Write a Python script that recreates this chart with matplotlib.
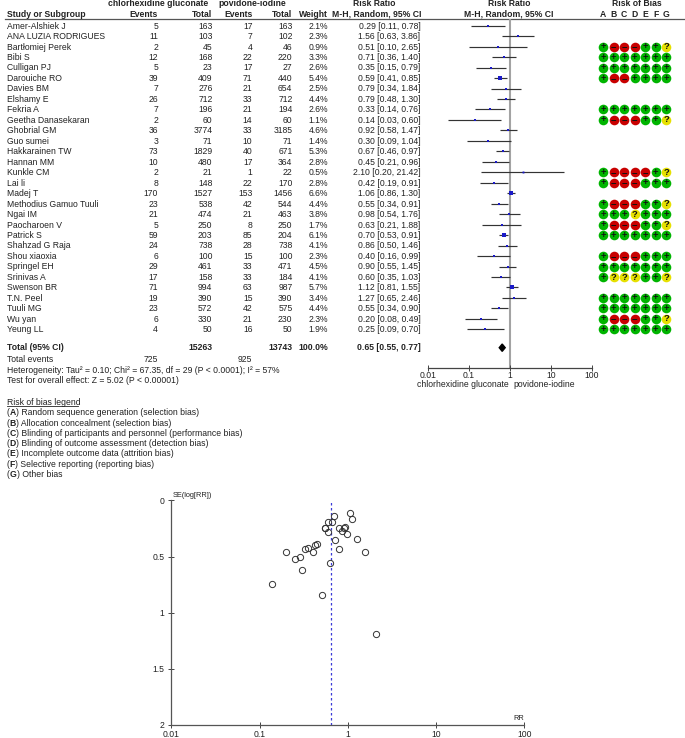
import matplotlib
matplotlib.use('Agg')
import matplotlib.pyplot as plt

plt.rcParams['font.family'] = ['Liberation Sans', 'DejaVu Sans']

studies = ['Amer-Alshiek J', 'ANA LUZIA RODRIGUES', 'Bartłomiej Perek', 'Bibi S', 'Culligan PJ',
           'Darouiche RO', 'Davies BM', 'Elshamy E', 'Fekria A', 'Geetha Danasekaran',
           'Ghobrial GM', 'Guo sumei', 'Hakkarainen TW', 'Hannan MM', 'Kunkle CM', 'Lai li',
           'Madej T', 'Methodius Gamuo Tuuli', 'Ngai IM', 'Paocharoen V', 'Patrick S',
           'Shahzad G Raja', 'Shou xiaoxia', 'Springel EH', 'Srinivas A', 'Swenson BR',
           'T.N. Peel', 'Tuuli MG', 'Wu yan', 'Yeung LL']
events1 = [5, 11, 2, 12, 5, 39, 7, 26, 7, 2, 36, 3, 73, 10, 2, 8, 170, 23, 21, 5, 59, 24, 6, 29, 17, 71, 19, 23, 6, 4]
total1 = [163, 103, 45, 168, 23, 409, 276, 712, 196, 60, 3774, 71, 1829, 480, 21, 148, 1527, 538, 474, 250,
          203, 738, 100, 461, 158, 994, 390, 572, 330, 50]
events2 = [17, 7, 4, 22, 17, 71, 21, 33, 21, 14, 33, 10, 40, 17, 1, 22, 153, 42, 21, 8, 85, 28, 15, 33, 33, 63,
           15, 42, 21, 16]
total2 = [163, 102, 46, 220, 27, 440, 654, 712, 194, 60, 3185, 71, 671, 364, 22, 170, 1456, 544, 463, 250, 204,
          738, 100, 471, 184, 987, 390, 575, 230, 50]
weight = [2.1, 2.3, 0.9, 3.3, 2.6, 5.4, 2.5, 4.4, 2.6, 1.1, 4.6, 1.4, 5.3, 2.8, 0.5, 2.8, 6.6, 4.4, 3.8, 1.7,
          6.1, 4.1, 2.3, 4.5, 4.1, 5.7, 3.4, 4.4, 2.3, 1.9]
rr = [0.29, 1.56, 0.51, 0.71, 0.35, 0.59, 0.79, 0.79, 0.33, 0.14, 0.92, 0.30, 0.67, 0.45, 2.10, 0.42, 1.06, 0.55,
      0.98, 0.63, 0.70, 0.86, 0.40, 0.90, 0.60, 1.12, 1.27, 0.55, 0.20, 0.25]
ci_low = [0.11, 0.63, 0.10, 0.36, 0.15, 0.41, 0.34, 0.48, 0.14, 0.03, 0.58, 0.09, 0.46, 0.21, 0.20, 0.19, 0.86,
          0.34, 0.54, 0.21, 0.53, 0.50, 0.16, 0.55, 0.35, 0.81, 0.65, 0.34, 0.08, 0.09]
ci_high = [0.78, 3.86, 2.65, 1.40, 0.79, 0.85, 1.84, 1.30, 0.76, 0.60, 1.47, 1.04, 0.97, 0.96, 21.42, 0.91, 1.30,
           0.91, 1.76, 1.88, 0.91, 1.46, 0.99, 1.45, 1.03, 1.55, 2.46, 0.90, 0.49, 0.70]
rob = ['', '', '+---++?', '+++++++', '+++++++', '+--++++', '', '', '+++++++', '+---++?', '', '', '', '',
       '+----+?', '+---+++', '', '+---++?', '+++?+++', '+---++?', '+++++++', '', '+---+++', '+++++++',
       '+???++?', '', '+++++++', '+++++++', '+---++?', '+++++++']
se = [0.50, 0.46, 0.84, 0.35, 0.42, 0.19, 0.43, 0.25, 0.43, 0.74, 0.24, 0.62, 0.19, 0.39, 1.19, 0.40, 0.11,
      0.25, 0.30, 0.56, 0.14, 0.27, 0.46, 0.25, 0.28, 0.17, 0.34, 0.25, 0.46, 0.52]
rob_letters = ['A', 'B', 'C', 'D', 'E', 'F', 'G']
legend_lines = [('A', 'Random sequence generation (selection bias)'),
                ('B', 'Allocation concealment (selection bias)'),
                ('C', 'Blinding of participants and personnel (performance bias)'),
                ('D', 'Blinding of outcome assessment (detection bias)'),
                ('E', 'Incomplete outcome data (attrition bias)'),
                ('F', 'Selective reporting (reporting bias)'),
                ('G', 'Other bias')]
pooled, pooled_low, pooled_high = 0.65, 0.55, 0.77
W, H = 685, 738
FS = 6.2
TXT = '#222222'


def px_axes(x0, y0, x1, y1):
    # axes from pixel box, y measured from the top
    return fig.add_axes([x0 / W, 1 - y1 / H, (x1 - x0) / W, (y1 - y0) / H])


def row_y(r):
    return 25.7 + 10.47 * r


fig = plt.figure(figsize=(W / 100, H / 100), dpi=100)

# page layer for the table text
page = fig.add_axes([0, 0, 1, 1])
page.set_xlim(0, W)
page.set_ylim(H, 0)
page.axis('off')


def t(x, y, s, ha='left', bold=False, size=FS):
    return page.text(x, y + 0.4, s, ha=ha, va='center', fontsize=size, color=TXT,
                     fontweight='bold' if bold else 'normal')


# header
t(158.5, 3.5, 'chlorhexidine gluconate', ha='center', bold=True)
t(252.5, 3.5, 'povidone-iodine', ha='center', bold=True)
t(374, 3.5, 'Risk Ratio', ha='center', bold=True)
t(509, 3.5, 'Risk Ratio', ha='center', bold=True)
t(637, 3.5, 'Risk of Bias', ha='center', bold=True)
t(7, 14, 'Study or Subgroup', bold=True)
t(158, 14, 'Events', ha='right', bold=True)
t(212.5, 14, 'Total', ha='right', bold=True)
t(252.5, 14, 'Events', ha='right', bold=True)
t(292.5, 14, 'Total', ha='right', bold=True)
t(328, 14, 'Weight', ha='right', bold=True)
t(376.5, 14, 'M-H, Random, 95% CI', ha='center', bold=True)
t(509, 14, 'M-H, Random, 95% CI', ha='center', bold=True)
for i, letter in enumerate(rob_letters):
    t(603.3 + 10.45 * i, 14, letter, ha='center', bold=True)
page.plot([5, 685], [19, 19], color='#555555', lw=0.9)

# table rows
for i, name in enumerate(studies):
    y = row_y(i)
    t(7, y, name)
    t(158, y, str(events1[i]), ha='right')
    t(212.5, y, str(total1[i]), ha='right')
    t(252.5, y, str(events2[i]), ha='right')
    t(292.5, y, str(total2[i]), ha='right')
    t(328, y, '%.1f%%' % weight[i], ha='right')
    t(420.5, y, '%.2f [%.2f, %.2f]' % (rr[i], ci_low[i], ci_high[i]), ha='right')

# total row
t(7, 347.5, 'Total (95% CI)', bold=True)
t(212.5, 347.5, '15263', ha='right', bold=True)
t(292.5, 347.5, '13743', ha='right', bold=True)
t(328, 347.5, '100.0%', ha='right', bold=True)
t(420.5, 347.5, '%.2f [%.2f, %.2f]' % (pooled, pooled_low, pooled_high), ha='right', bold=True)
t(7, 359.3, 'Total events')
t(158, 359.3, '725', ha='right')
t(252.5, 359.3, '925', ha='right')
t(7, 370, 'Heterogeneity: Tau² = 0.10; Chi² = 67.35, df = 29 (P < 0.0001); I² = 57%')
t(7, 380.3, 'Test for overall effect: Z = 5.02 (P < 0.00001)')

# risk of bias legend, bold letter placed after measuring the piece before it
t(7, 401.7, 'Risk of bias legend')
page.plot([7, 78.5], [405.8, 405.8], color=TXT, lw=0.6)
renderer = fig.canvas.get_renderer()
for i, (letter, desc) in enumerate(legend_lines):
    y = 412.3 + 10.3 * i
    x = 7
    for piece, is_bold in [('(', False), (letter, True), (') ' + desc, False)]:
        txt = t(x, y, piece, bold=is_bold)
        x = page.transData.inverted().transform(txt.get_window_extent(renderer))[1][0]

# forest plot
rows = list(range(len(studies)))
ax = px_axes(428, 19, 591.7, 368)
ax.set_xscale('log')
ax.set_xlim(0.01, 100)
ax.set_ylim(32.69, -0.64)
ax.patch.set_alpha(0)
ax.axvline(1, color='#a3a3a3', lw=1.5, zorder=1)
ax.hlines(rows, ci_low, ci_high, color='#333333', lw=0.85, zorder=2)
for i in rows:
    ax.plot(rr[i], i, 's', color='#1a1ac8', ms=1.3 + weight[i] * 0.16, mew=0, zorder=3)
ax.fill([pooled_low, pooled, pooled_high, pooled], [30.75, 30.4, 30.75, 31.1], color='black', zorder=4)
for s in ['top', 'left', 'right']:
    ax.spines[s].set_visible(False)
ax.spines['bottom'].set_color('#444444')
ax.spines['bottom'].set_linewidth(0.9)
ax.set_yticks([])
ax.set_xticks([0.01, 0.1, 1, 10, 100])
ax.set_xticklabels(['0.01', '0.1', '1', '10', '100'], fontsize=FS, color=TXT)
ax.minorticks_off()
ax.tick_params(axis='x', direction='inout', length=4, width=0.7, color='#444444', pad=0.5)
t(509, 384.5, 'chlorhexidine gluconate', ha='right')
t(513, 384.5, 'povidone-iodine')

# risk of bias circles
colours = {'+': '#00b400', '-': '#c80000', '?': '#e6e000'}
glyphs = {'+': '+', '-': '−', '?': '?'}
ax_rob = px_axes(603.3, 19, 666, 368)
ax_rob.set_xlim(0, 6)
ax_rob.set_ylim(32.69, -0.64)
ax_rob.axis('off')
for i, codes in enumerate(rob):
    for j, c in enumerate(codes):
        ax_rob.scatter(j, i, s=48, color=colours[c], linewidths=0, clip_on=False)
        ax_rob.text(j, i, glyphs[c], ha='center', va='center', fontsize=6.8, fontweight='bold',
                    color='#111111', clip_on=False)

# funnel plot
fn = px_axes(171.3, 500.4, 524.3, 725)
fn.set_xscale('log')
fn.set_xlim(0.01, 100)
fn.set_ylim(2, 0)
fn.patch.set_alpha(0)
fn.axvline(pooled, color='#3a3ad8', lw=0.9, ls=(0, (2, 2)))
fn.plot(rr, se, 'o', mfc='none', mec='#333333', ms=4.5, mew=0.7, clip_on=False)
fn.spines['top'].set_visible(False)
fn.spines['right'].set_visible(False)
for s in ['left', 'bottom']:
    fn.spines[s].set_color('#555555')
    fn.spines[s].set_linewidth(0.9)
fn.set_xticks([0.01, 0.1, 1, 10, 100])
fn.set_xticklabels(['0.01', '0.1', '1', '10', '100'], fontsize=FS, color=TXT)
fn.set_yticks([0, 0.5, 1, 1.5, 2])
fn.set_yticklabels(['0', '0.5', '1', '1.5', '2'], fontsize=FS, color=TXT)
fn.minorticks_off()
fn.tick_params(axis='x', direction='inout', length=4, width=0.7, color='#444444', pad=1.5)
fn.tick_params(axis='y', direction='inout', length=4, width=0.7, color='#444444', pad=3)
t(173, 495, 'SE(log[RR])', size=5.3)
t(519, 718.5, 'RR', ha='center', size=5.3)

fig.savefig('out.png', dpi=100)
